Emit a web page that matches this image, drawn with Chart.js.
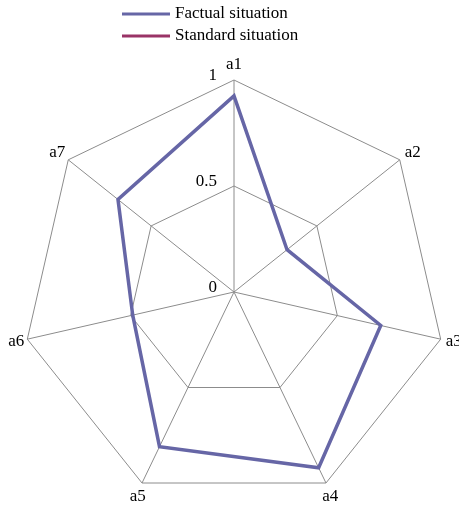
<!DOCTYPE html>
<html lang="en">
<head>
    <meta charset="UTF-8">
    <title>Situation Radar</title>
    <script src="https://cdn.jsdelivr.net/npm/chart.js"></script>
    <style>
        html, body { margin: 0; padding: 0; background: #ffffff; }
        #wrap { width: 459px; height: 508px; position: relative; }
    </style>
</head>
<body>
    <div id="wrap">
        <canvas id="radar"></canvas>
    </div>

    <script>
        // chart values
        const categories = ['a1', 'a2', 'a3', 'a4', 'a5', 'a6', 'a7'];
        const seriesNames = ['Factual situation', 'Standard situation'];
        const factualValues = [0.925, 0.32, 0.71, 0.92, 0.81, 0.49, 0.70];
        const standardValues = [0, 0, 0, 0, 0, 0, 0];
        const tickValues = [0, 0.5, 1];

        const FONT = '17px "Liberation Serif", "DejaVu Serif", serif';

        // draws axis labels, tick labels and the stacked legend
        const textPlugin = {
            id: 'textPlugin',
            afterDraw(chart) {
                const ctx = chart.ctx;
                const scale = chart.scales.r;
                ctx.save();
                ctx.font = FONT;
                ctx.fillStyle = '#000';
                ctx.textBaseline = 'middle';

                // point labels
                categories.forEach((lab, i) => {
                    const p = scale.getPointPosition(i, scale.drawingArea);
                    const a = (Math.PI * 2 * i) / categories.length;
                    const s = Math.sin(a), c = Math.cos(a);
                    let x = p.x, y = p.y - c * 15;
                    if (s > 0.7) { ctx.textAlign = 'left'; x += 5; }
                    else if (s < -0.7) { ctx.textAlign = 'right'; x -= 3; }
                    else { ctx.textAlign = 'center'; x += s * 10; }
                    if (Math.abs(s) > 0.7) y = p.y - c * 12;
                    ctx.fillText(lab, x, y);
                });

                // tick labels
                ctx.textAlign = 'right';
                tickValues.forEach(v => {
                    const d = scale.getDistanceFromCenterForValue(v);
                    ctx.fillText(String(v), scale.xCenter - 17, scale.yCenter - d - 4);
                });

                // legend
                ctx.textAlign = 'left';
                chart.data.datasets.forEach((ds, i) => {
                    const y = 14 + i * 22;
                    ctx.strokeStyle = ds.borderColor;
                    ctx.lineWidth = 3;
                    ctx.beginPath();
                    ctx.moveTo(122, y);
                    ctx.lineTo(170, y);
                    ctx.stroke();
                    ctx.fillText(ds.label, 175, y);
                });
                ctx.restore();
            }
        };

        new Chart(document.getElementById('radar'), {
            type: 'radar',
            data: {
                labels: categories,
                datasets: [
                    {
                        label: seriesNames[0],
                        data: factualValues,
                        borderColor: '#6666a6',
                        borderWidth: 3.5,
                        fill: false,
                        pointRadius: 0,
                        tension: 0
                    },
                    {
                        label: seriesNames[1],
                        data: standardValues,
                        borderColor: '#993366',
                        borderWidth: 3,
                        fill: false,
                        pointRadius: 0,
                        tension: 0
                    }
                ]
            },
            options: {
                responsive: true,
                maintainAspectRatio: false,
                animation: false,
                layout: { padding: { top: 80, bottom: 4, left: 9, right: 0 } },
                plugins: {
                    legend: { display: false },
                    tooltip: { enabled: false }
                },
                scales: {
                    r: {
                        min: 0,
                        max: 1,
                        ticks: { display: false, stepSize: 0.5 },
                        pointLabels: { display: false },
                        grid: { color: '#8c8c8c', lineWidth: 1 },
                        angleLines: { color: '#8c8c8c', lineWidth: 1 }
                    }
                }
            },
            plugins: [textPlugin]
        });
    </script>
</body>
</html>
